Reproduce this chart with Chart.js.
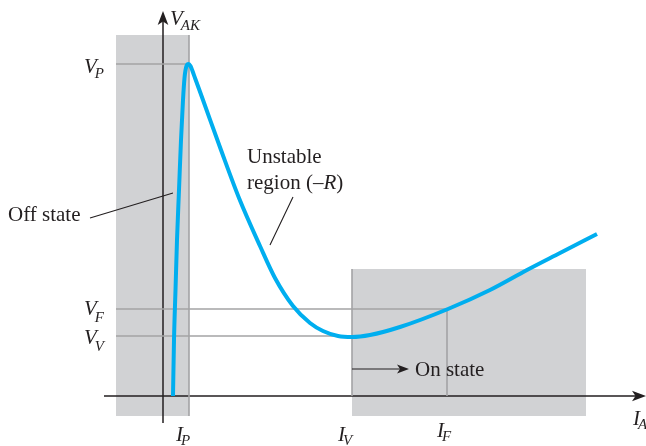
<!DOCTYPE html>
<html>
<head>
<meta charset="utf-8">
<script src="https://cdn.jsdelivr.net/npm/chart.js@4/dist/chart.umd.min.js"></script>
<style>
  html, body { margin: 0; padding: 0; background: #fff; }
  canvas { display: block; }
</style>
</head>
<body>
<canvas id="myChart" width="646" height="446"></canvas>
<script>
(() => {
  'use strict'

  // Characteristic curve, I_A (x) vs V_AK (y)
  const currentI = [10, 11, 12.5, 14, 16, 18, 20, 21.5, 23.5, 25.5, 27.5, 29.5, 32, 40, 58, 76, 97, 112, 130, 147, 160, 175, 189, 207, 237, 285, 327, 364, 397, 434]
  const voltageV = [0, 56, 106, 156, 206, 256, 296, 318, 330, 332, 330, 325, 318, 296, 246, 198, 150, 118, 90, 73, 65, 60, 59, 61, 69, 87, 106, 126, 143, 162]

  // Marked levels
  const voltNames = ['P', 'F', 'V']
  const voltValues = [332, 87, 60]
  const voltLineEnds = [26, 284, 189]
  const currNames = ['P', 'V', 'F']
  const currValues = [26, 189, 284]

  const xMin = -163, xMax = 483, yMin = -50, yMax = 396

  const serif = '"Liberation Serif", "Times New Roman", serif'
  const grey = '#a3a3a5'

  const refLines = []
  voltValues.forEach((v, i) => {
    refLines.push({ data: [{ x: -47, y: v }, { x: voltLineEnds[i], y: v }] })
  })
  refLines.push({ data: [{ x: currValues[0], y: 361 }, { x: currValues[0], y: -20 }] })
  refLines.push({ data: [{ x: currValues[1], y: 127 }, { x: currValues[1], y: 0 }] })
  refLines.push({ data: [{ x: currValues[2], y: voltValues[1] }, { x: currValues[2], y: 0 }] })

  const lineSets = refLines.map(r => ({
    data: r.data,
    showLine: true,
    borderColor: grey,
    borderWidth: 1.6,
    pointRadius: 0,
    order: 2
  }))

  function arrowHead (ctx, x, y, dir, size) {
    ctx.save()
    ctx.translate(x, y)
    ctx.rotate(dir)
    ctx.beginPath()
    ctx.moveTo(0, 0)
    ctx.lineTo(-size, -size * 0.38)
    ctx.lineTo(-size * 0.75, 0)
    ctx.lineTo(-size, size * 0.38)
    ctx.closePath()
    ctx.fill()
    ctx.restore()
  }

  function subLabel (ctx, main, sub, x, y, dy) {
    ctx.font = 'italic 21px ' + serif
    ctx.fillText(main, x, y)
    const w = ctx.measureText(main).width
    ctx.font = 'italic 15px ' + serif
    ctx.fillText(sub, x + w - 2, y + dy)
  }

  const backdrop = {
    id: 'backdrop',
    beforeDatasetsDraw (chart) {
      const { ctx, scales: { x, y } } = chart
      const px = v => x.getPixelForValue(v)
      const py = v => y.getPixelForValue(v)
      ctx.save()
      ctx.fillStyle = '#d1d2d4'
      ctx.fillRect(px(-47), py(361), px(26) - px(-47), py(-20) - py(361))
      ctx.fillRect(px(189), py(127), px(423) - px(189), py(-20) - py(127))

      // axes
      ctx.strokeStyle = '#231f20'
      ctx.fillStyle = '#231f20'
      ctx.lineWidth = 1.5
      ctx.beginPath()
      ctx.moveTo(px(0), py(-27))
      ctx.lineTo(px(0), py(378))
      ctx.moveTo(px(-59), py(0))
      ctx.lineTo(px(476), py(0))
      ctx.stroke()
      arrowHead(ctx, px(0), py(385), -Math.PI / 2, 14)
      arrowHead(ctx, px(483), py(0), 0, 14)
      ctx.restore()
    },
    afterDraw (chart) {
      const { ctx, scales: { x, y } } = chart
      const px = v => x.getPixelForValue(v)
      const py = v => y.getPixelForValue(v)
      ctx.save()
      ctx.fillStyle = '#231f20'
      ctx.strokeStyle = '#231f20'
      ctx.textBaseline = 'alphabetic'

      subLabel(ctx, 'V', 'AK', px(7), py(371), 5)
      const vOff = [[9, 5], [6, 7], [8, 7]]
      voltValues.forEach((v, i) => {
        subLabel(ctx, 'V', voltNames[i], 84, py(v) + vOff[i][0], vOff[i][1])
      })
      subLabel(ctx, 'I', currNames[0], px(currValues[0]) - 13, 441, 4)
      subLabel(ctx, 'I', currNames[1], px(currValues[1]) - 14, 441, 4)
      subLabel(ctx, 'I', currNames[2], px(currValues[2]) - 10, 437, 4)
      subLabel(ctx, 'I', 'A', px(470), 425, 4)

      ctx.font = '21px ' + serif
      ctx.fillText('Off state', 8, 221)
      ctx.fillText('Unstable', 247, 163)
      ctx.fillText('region (–', 247, 189)
      let w = ctx.measureText('region (–').width
      ctx.font = 'italic 21px ' + serif
      ctx.fillText('R', 247 + w, 189)
      w += ctx.measureText('R').width
      ctx.font = '21px ' + serif
      ctx.fillText(')', 247 + w, 189)
      ctx.fillText('On state', 415, 376)

      ctx.lineWidth = 1.1
      ctx.beginPath()
      ctx.moveTo(90, 218)
      ctx.lineTo(173, 193)
      ctx.moveTo(293, 197)
      ctx.lineTo(270, 245)
      ctx.moveTo(px(currValues[1]), 369)
      ctx.lineTo(400, 369)
      ctx.stroke()
      arrowHead(ctx, 409, 369, 0, 12)
      ctx.restore()
    }
  }

  const ctx = document.getElementById('myChart')
  // eslint-disable-next-line no-unused-vars
  const myChart = new Chart(ctx, {
    type: 'scatter',
    data: {
      datasets: [{
        data: currentI.map((c, i) => ({ x: c, y: voltageV[i] })),
        showLine: true,
        borderColor: '#00aeef',
        borderWidth: 4,
        pointRadius: 0,
        cubicInterpolationMode: 'monotone',
        order: 1
      }, ...lineSets]
    },
    options: {
      responsive: false,
      animation: false,
      layout: { padding: 0 },
      scales: {
        x: { type: 'linear', min: xMin, max: xMax, display: false },
        y: { type: 'linear', min: yMin, max: yMax, display: false }
      },
      plugins: {
        legend: { display: false },
        tooltip: { enabled: false }
      }
    },
    plugins: [backdrop]
  })
})()
</script>
</body>
</html>
